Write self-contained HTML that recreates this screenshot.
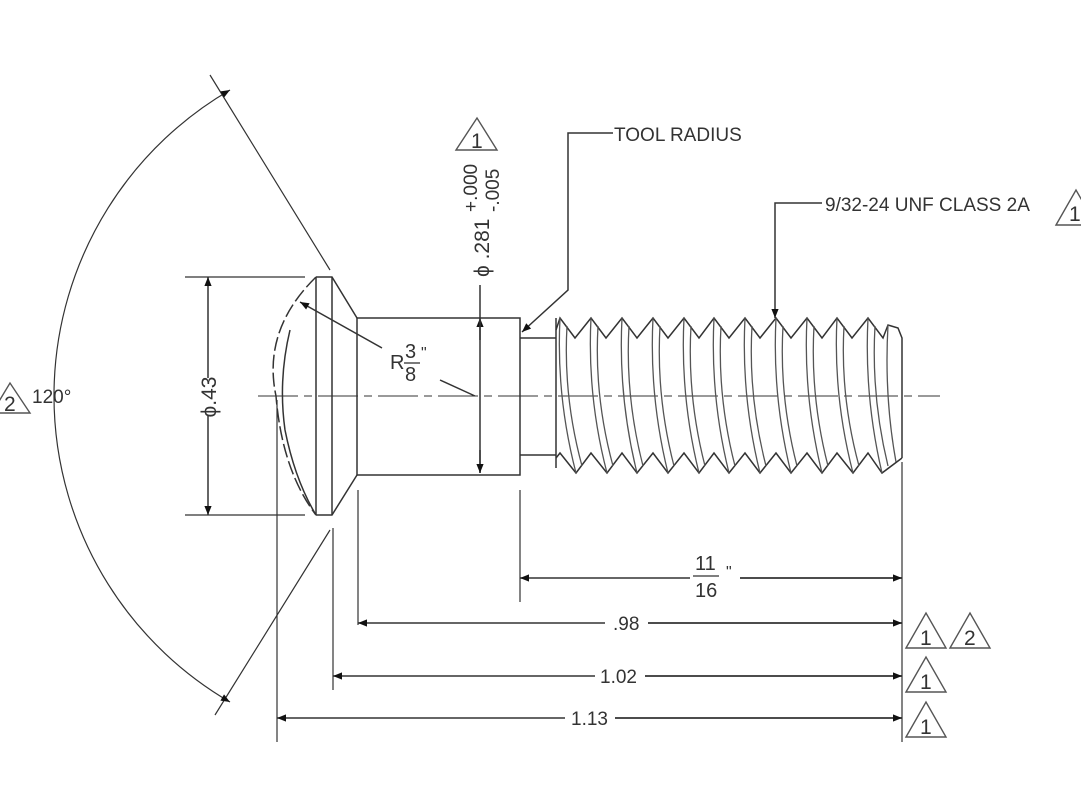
<!DOCTYPE html>
<html><head><meta charset="utf-8"><style>
html,body{margin:0;padding:0;background:#fff;}
svg{display:block;}
text{font-family:"Liberation Sans",Arial,sans-serif;fill:#333;}
</style></head><body>
<svg width="1081" height="805" viewBox="0 0 1081 805" xmlns="http://www.w3.org/2000/svg">
<defs>
<marker id="a" viewBox="0 0 10 10" refX="10" refY="5" markerWidth="20" markerHeight="9" markerUnits="userSpaceOnUse" orient="auto-start-reverse"><path d="M0,1 L10,5 L0,9 z" fill="#111"/></marker>
</defs>
<g stroke="#333" stroke-width="1.5" fill="none">
<path d="M258 396 H940" stroke-dasharray="40 6 8 6" stroke-width="1.1"/>
<path d="M316 277 L332 277 L357 318 M316 515 L332 515 L357 475"/>
<path d="M316 277 V515 M332 277 V515"/>
<path d="M316 277 Q262 330 276 396 Q282 470 316 515" stroke-dasharray="14 4"/>
<path d="M290 330 Q278 380 285 430 Q295 480 316 515"/>
<rect x="357" y="318" width="163" height="157"/>
<path d="M520 338 H556 M520 455 H556"/>
<path d="M556 318 V468"/>
<path d="M556 330 L560 318 L575 338 L591 318 L606 338 L622 318 L637 338 L653 318 L668 338 L684 318 L699 338 L714 318 L729 338 L745 318 L760 338 L776 318 L791 338 L807 318 L822 338 L837 318 L852 338 L868 318 L883 338 L888 325 L898 328 L902 338 V458"/>
<path d="M556 458 L560 453 L576 473 L591 453 L607 473 L622 453 L637 473 L653 453 L668 473 L684 453 L699 473 L714 453 L729 473 L745 453 L760 473 L776 453 L791 473 L807 453 L822 473 L837 453 L853 473 L868 453 L882 473 L902 458"/>
<g stroke="#555" stroke-width="1.3">
<path d="M560 318 Q556 396 576 473 M567 326 Q563 396 582 466"/>
<path d="M591 318 Q587 396 607 473 M598 326 Q594 396 613 466"/>
<path d="M622 318 Q618 396 637 473 M629 326 Q625 396 643 466"/>
<path d="M653 318 Q649 396 668 473 M660 326 Q656 396 674 466"/>
<path d="M684 318 Q680 396 699 473 M691 326 Q687 396 705 466"/>
<path d="M714 318 Q710 396 729 473 M721 326 Q717 396 735 466"/>
<path d="M745 318 Q741 396 760 473 M752 326 Q748 396 766 466"/>
<path d="M776 318 Q772 396 791 473 M783 326 Q779 396 797 466"/>
<path d="M807 318 Q803 396 822 473 M814 326 Q810 396 828 466"/>
<path d="M837 318 Q833 396 853 473 M844 326 Q840 396 859 466"/>
<path d="M868 318 Q864 396 882 473 M875 326 Q871 396 888 466"/>
<path d="M888 325 Q884 396 896 462"/>
</g>
<g stroke-width="1.2">
<path d="M185 277 H305 M185 515 H305"/>
<path d="M358 490 V625 M333 528 V690 M277 400 V742 M520 490 V602 M902 462 V742"/>
<path d="M210 75 L330 270 M330 530 L215 715"/>
</g>
<path d="M208 277 V378 M208 416 V515" marker-start="url(#a)" marker-end="url(#a)"/>
<path d="M480 285 V318"/>
<path d="M480 340 V318" marker-end="url(#a)"/>
<path d="M480 318 V473"/>
<path d="M480 450 V473" marker-end="url(#a)"/>
<path d="M520 578 H690 M740 578 H902" marker-start="url(#a)"/>
<path d="M740 578 H902" marker-end="url(#a)"/>
<path d="M358 623 H605 M648 623 H902" marker-start="url(#a)"/>
<path d="M648 623 H902" marker-end="url(#a)"/>
<path d="M333 676 H595 M645 676 H902" marker-start="url(#a)"/>
<path d="M645 676 H902" marker-end="url(#a)"/>
<path d="M277 718 H565 M615 718 H902" marker-start="url(#a)"/>
<path d="M615 718 H902" marker-end="url(#a)"/>
<path d="M230 90 A354 354 0 0 0 230 702" stroke-width="1.2" marker-start="url(#a)" marker-end="url(#a)"/>
<path d="M613 133 H568 V290 L522 332" marker-end="url(#a)"/>
<path d="M822 203 H775 V318" marker-end="url(#a)"/>
<path d="M382 348 L300 302" marker-end="url(#a)"/>
<path d="M440 380 L475 396"/>
<g stroke="#555" stroke-width="1.4">
<path d="M456 150 L477 118 L497 150 Z"/>
<path d="M906 648 L926 613 L946 648 Z"/>
<path d="M950 648 L970 613 L990 648 Z"/>
<path d="M906 692 L926 657 L946 692 Z"/>
<path d="M906 737 L926 702 L946 737 Z"/>
<path d="M1056 225 L1076 190 L1096 225 Z"/>
<path d="M-8 413 L10 383 L30 413 Z"/>
</g>
</g>
<g font-size="19">
<text x="614" y="141">TOOL RADIUS</text>
<text x="825" y="211">9/32-24 UNF CLASS 2A</text>
<text x="1069" y="221" font-size="21">1</text>
<text x="471" y="148" font-size="21">1</text>
<text x="920" y="645" font-size="21">1</text>
<text x="964" y="645" font-size="21">2</text>
<text x="920" y="689" font-size="21">1</text>
<text x="920" y="734" font-size="21">1</text>
<text x="4" y="411" font-size="21">2</text>
<text x="32" y="403">120°</text>
<text x="613" y="630">.98</text>
<text x="600" y="683">1.02</text>
<text x="571" y="725">1.13</text>
<text x="695" y="570" font-size="20">11</text>
<text x="695" y="597" font-size="20">16</text>
<text x="726" y="577" font-size="16">"</text>
<text x="390" y="369" font-size="20">R</text>
<text x="405" y="358" font-size="20">3</text>
<text x="405" y="381" font-size="20">8</text>
<text x="421" y="358" font-size="16">"</text>
<text transform="translate(216,397) rotate(-90)" text-anchor="middle" font-size="21">ϕ.43</text>
<text transform="translate(489,277) rotate(-90)" font-size="21">ϕ .281</text>
<text transform="translate(477,212) rotate(-90)" font-size="19">+.000</text>
<text transform="translate(499,212) rotate(-90)" font-size="19">-.005</text>
</g>
<g stroke="#333" stroke-width="1.3">
<path d="M693 576 H719"/>
<path d="M404 363 H420"/>
</g>
</svg>
</body></html>
